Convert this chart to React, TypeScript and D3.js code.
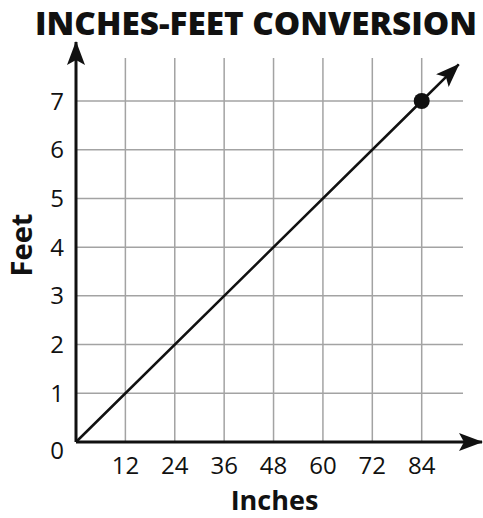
import React, { useEffect, useRef } from 'react';
import * as d3 from 'd3';

const inchTicks = [12, 24, 36, 48, 60, 72, 84];
const feetTicks = [0, 1, 2, 3, 4, 5, 6, 7];
const linePoints = [[0, 0], [84, 7]];
const markedPoint = [84, 7];
const lineArrowEnd = [93, 7.75];

const FONT = '"Open Sans", "Noto Sans", sans-serif';

const App = () => {
  const ref = useRef<SVGSVGElement>(null);

  useEffect(() => {
    const svg = d3.select(ref.current);
    svg.selectAll('*').remove();

    const x = d3.scaleLinear().domain([0, 84]).range([76, 421.7]);
    const y = d3.scaleLinear().domain([0, 7]).range([442, 101]);

    const gridRight = 463, gridTop = 58;

    // arrow markers
    const defs = svg.append('defs');
    defs.append('marker')
      .attr('id', 'arrow')
      .attr('viewBox', '0 0 24 18')
      .attr('refX', 23)
      .attr('refY', 9)
      .attr('markerWidth', 24)
      .attr('markerHeight', 18)
      .attr('markerUnits', 'userSpaceOnUse')
      .attr('orient', 'auto')
      .append('path')
        .attr('d', 'M0,0 L24,9 L0,18 L5,9 Z')
        .attr('fill', '#111');

    // title
    svg.append('text')
      .attr('x', 256)
      .attr('y', 35)
      .attr('text-anchor', 'middle')
      .attr('font-family', FONT)
      .attr('font-weight', 800)
      .attr('font-size', 31)
      .attr('textLength', 442)
      .attr('lengthAdjust', 'spacingAndGlyphs')
      .attr('fill', '#111')
      .text('INCHES-FEET CONVERSION');

    // grid
    const grid = svg.append('g').attr('stroke', '#a3a3a3').attr('stroke-width', 1.5);
    grid.selectAll('.vline')
      .data(inchTicks)
      .join('line')
        .attr('class', 'vline')
        .attr('x1', d => x(d))
        .attr('x2', d => x(d))
        .attr('y1', y(0))
        .attr('y2', gridTop);
    grid.selectAll('.hline')
      .data(feetTicks.filter(d => d > 0))
      .join('line')
        .attr('class', 'hline')
        .attr('x1', x(0))
        .attr('x2', gridRight)
        .attr('y1', d => y(d))
        .attr('y2', d => y(d));

    // axes
    svg.append('line')
      .attr('x1', x(0)).attr('y1', y(0))
      .attr('x2', 482).attr('y2', y(0))
      .attr('stroke', '#111').attr('stroke-width', 3)
      .attr('marker-end', 'url(#arrow)');
    svg.append('line')
      .attr('x1', x(0)).attr('y1', y(0))
      .attr('x2', x(0)).attr('y2', 42)
      .attr('stroke', '#111').attr('stroke-width', 3)
      .attr('marker-end', 'url(#arrow)');

    // tick labels
    svg.append('g')
      .selectAll('text')
      .data(inchTicks)
      .join('text')
        .attr('x', d => x(d))
        .attr('y', y(0) + 32)
        .attr('text-anchor', 'middle')
        .attr('font-family', FONT)
        .attr('font-size', 24)
        .attr('fill', '#111')
        .text(d => d);

    svg.append('g')
      .selectAll('text')
      .data(feetTicks)
      .join('text')
        .attr('x', 64)
        .attr('y', d => y(d) + (d === 0 ? 8 : 0))
        .attr('dy', '0.36em')
        .attr('text-anchor', 'end')
        .attr('font-family', FONT)
        .attr('font-size', 24)
        .attr('fill', '#111')
        .text(d => d);

    // axis titles
    svg.append('text')
      .attr('x', 274.5)
      .attr('y', 510)
      .attr('text-anchor', 'middle')
      .attr('font-family', FONT)
      .attr('font-weight', 700)
      .attr('font-size', 27)
      .attr('fill', '#111')
      .text('Inches');

    svg.append('text')
      .attr('transform', 'translate(32,245) rotate(-90)')
      .attr('text-anchor', 'middle')
      .attr('font-family', FONT)
      .attr('font-weight', 700)
      .attr('font-size', 29)
      .attr('fill', '#111')
      .text('Feet');

    // data line
    svg.append('path')
      .datum([...linePoints, lineArrowEnd])
      .attr('d', d3.line().x(d => x(d[0])).y(d => y(d[1])))
      .attr('fill', 'none')
      .attr('stroke', '#111')
      .attr('stroke-width', 2.5)
      .attr('marker-end', 'url(#arrow)');

    svg.append('circle')
      .attr('cx', x(markedPoint[0]))
      .attr('cy', y(markedPoint[1]))
      .attr('r', 8)
      .attr('fill', '#111');
  }, []);

  return (
    <svg ref={ref} width={483} height={518} style={{ position: 'absolute', left: 0, top: 0, background: '#fff' }}></svg>
  );
};

export default App;
